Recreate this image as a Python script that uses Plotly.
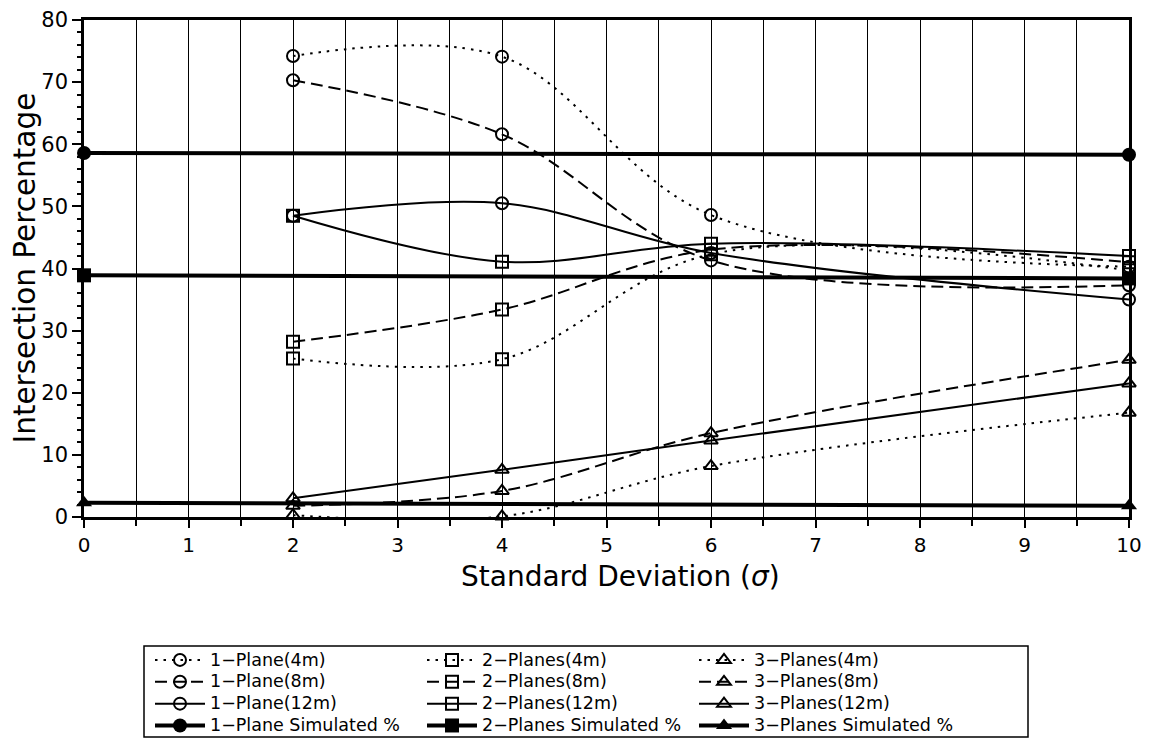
import plotly.graph_objects as go

# ---- data ----
sigma = [2, 4, 6, 10]
p1_4m = [74.2, 74.1, 48.6, 40.3]
p1_8m = [70.3, 61.6, 41.3, 37.3]
p1_12m = [48.5, 50.5, 42.5, 35.0]
p2_4m = [25.5, 25.4, 42.3, 39.7]
p2_8m = [28.2, 33.4, 43.0, 41.0]
p2_12m = [48.5, 41.1, 44.0, 42.0]
p3_4m = [0.3, 0.1, 8.2, 16.8]
p3_8m = [1.8, 4.2, 13.5, 25.3]
p3_12m = [3.0, 7.6, 12.3, 21.5]
sim_x = [0, 10]
sim1 = [58.6, 58.3]
sim2 = [38.9, 38.4]
sim3 = [2.3, 1.8]

x_ticks = [0, 1, 2, 3, 4, 5, 6, 7, 8, 9, 10]
y_ticks = [0, 10, 20, 30, 40, 50, 60, 70, 80]

FONT = "DejaVu Sans, Liberation Sans, Arial, sans-serif"
DOT = "2.5px,6px"
DASH = "12px,6px"
LEG_TXT = 17.5

# layout geometry (pixels)
W, H = 1154, 738
ML, MR, MT, MB = 76, 33, 12, 229
PW, PH = W - ML - MR, H - MT - MB
PB = H - MB  # plot bottom


def px_x(p):
    return (p - ML) / PW


def px_y(p):
    return (PB - p) / PH


fig = go.Figure()


def lbl(t):
    return '<span style="font-size:%spx">%s</span>' % (LEG_TXT, t)


def add_series(name, y, symbol, dash):
    fig.add_trace(go.Scatter(
        x=sigma, y=y, name=lbl(name), mode="lines+markers",
        line=dict(color="black", width=2, dash=dash, shape="spline", smoothing=1.0),
        marker=dict(symbol=symbol, size=12, color="black", line=dict(width=2, color="black")),
        cliponaxis=False,
    ))


def add_sim(name, y, symbol):
    fig.add_trace(go.Scatter(
        x=sim_x, y=y, name=lbl(name), mode="lines+markers",
        line=dict(color="black", width=4),
        marker=dict(symbol=symbol, size=14, color="black"),
        cliponaxis=False,
    ))


# trace order gives a row-wise 3-column legend
add_series("1\u2212Plane(4m)", p1_4m, "circle-open", DOT)
add_series("2\u2212Planes(4m)", p2_4m, "square-open", DOT)
add_series("3\u2212Planes(4m)", p3_4m, "triangle-up-open", DOT)
add_series("1\u2212Plane(8m)", p1_8m, "circle-open", DASH)
add_series("2\u2212Planes(8m)", p2_8m, "square-open", DASH)
add_series("3\u2212Planes(8m)", p3_8m, "triangle-up-open", DASH)
add_series("1\u2212Plane(12m)", p1_12m, "circle-open", "solid")
add_series("2\u2212Planes(12m)", p2_12m, "square-open", "solid")
add_series("3\u2212Planes(12m)", p3_12m, "triangle-up-open", "solid")
add_sim("1\u2212Plane Simulated %", sim1, "circle")
add_sim("2\u2212Planes Simulated %", sim2, "square")
add_sim("3\u2212Planes Simulated %", sim3, "triangle-up")

fig.update_layout(
    width=W, height=H,
    margin=dict(l=ML, r=MR, t=MT, b=MB, autoexpand=False),
    paper_bgcolor="white", plot_bgcolor="white",
    font=dict(family=FONT, size=16, color="black"),
    showlegend=True,
    legend=dict(
        orientation="h", x=px_x(142), xanchor="left", y=px_y(636), yanchor="top",
        borderwidth=0, bgcolor="rgba(0,0,0,0)",
        font=dict(family=FONT, size=14.5, color="black"),
        entrywidth=207, itemwidth=50,
        traceorder="normal",
    ),
    shapes=[dict(type="rect", xref="paper", yref="paper",
                 x0=px_x(136), x1=px_x(1020), y0=px_y(729), y1=px_y(638),
                 line=dict(color="black", width=1.5), fillcolor="rgba(0,0,0,0)",
                 layer="below")],
    annotations=[
        dict(text="Standard Deviation (<i>\u03c3</i>)", xref="paper", yref="paper",
             x=px_x(612), y=px_y(568), xanchor="center", yanchor="middle",
             showarrow=False, font=dict(size=28, family=FONT, color="black")),
        dict(text="Intersection Percentage", xref="paper", yref="paper",
             x=px_x(16), y=0.5, xanchor="center", yanchor="middle", textangle=-90,
             showarrow=False, font=dict(size=29.5, family=FONT, color="black")),
    ],
)

fig.update_xaxes(
    range=[0, 10], tickvals=x_ticks, ticktext=[str(v) for v in x_ticks],
    showgrid=True, gridcolor="black", gridwidth=1,
    showline=True, linecolor="black", linewidth=2.5, mirror=True,
    ticks="outside", ticklen=8, tickwidth=1.5, tickcolor="black",
    minor=dict(dtick=0.5, tick0=0, showgrid=True, gridcolor="black", gridwidth=1,
               ticks="outside", ticklen=6, tickwidth=1.5, tickcolor="black"),
    zeroline=False, automargin=False, ticklabeloverflow="allow",
    tickfont=dict(size=20, family=FONT),
)
fig.update_yaxes(
    range=[0, 80], tickvals=y_ticks, ticktext=[str(v) for v in y_ticks],
    showgrid=False,
    showline=True, linecolor="black", linewidth=2.5, mirror=True,
    ticks="outside", ticklen=9, tickwidth=2, tickcolor="black",
    minor=dict(dtick=2, tick0=0, ticks="outside", ticklen=4, tickwidth=1.5, tickcolor="black", showgrid=False),
    zeroline=False, automargin=False, ticklabeloverflow="allow",
    tickfont=dict(size=21, family=FONT),
)

fig.write_html("out.html")
